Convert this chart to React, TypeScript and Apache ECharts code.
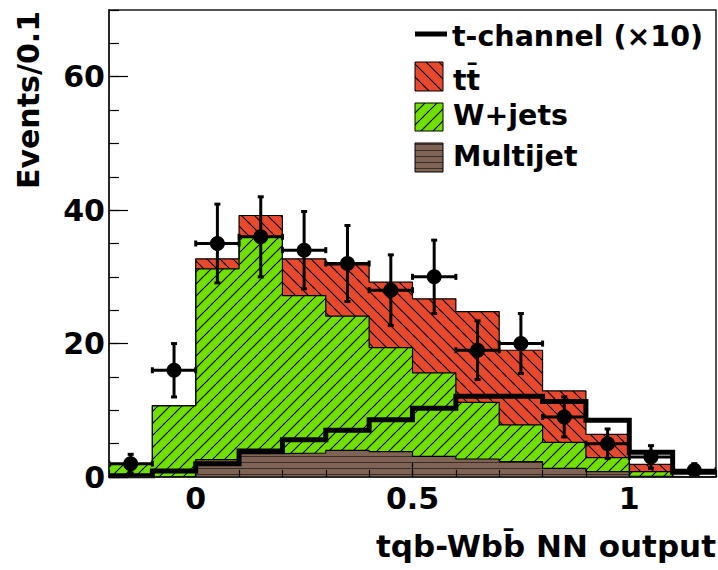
import React, { useEffect, useRef } from 'react';
import * as echarts from 'echarts';

// Bin edges of the NN output histogram (width 0.1)
const binEdges = [-0.2, -0.1, 0, 0.1, 0.2, 0.3, 0.4, 0.5, 0.6, 0.7, 0.8, 0.9, 1.0, 1.1, 1.2];
// Stacked backgrounds (bottom to top)
const multijet = [0, 0.1, 2.6, 3.5, 3.6, 4.0, 3.8, 3.1, 2.7, 2.3, 1.3, 0.8, 0.1, 0];
const wjets = [2.0, 10.6, 28.6, 32.4, 23.6, 20.1, 15.6, 12.5, 8.5, 5.5, 3.9, 2.1, 0.7, 0];
const ttbar = [0, 0, 1.5, 3.3, 5.5, 7.7, 9.8, 11.1, 13.6, 11.2, 7.7, 3.5, 1.1, 0];
// Signal scaled x10
const tchannelX10 = [0.2, 0.9, 2.0, 3.9, 5.6, 7.0, 8.6, 10.3, 12.1, 12.1, 11.3, 8.5, 3.7, 0.7];
// Data
const dataCounts = [2, 16, 35, 36, 34, 32, 28, 30, 19, 20, 9, 5, 3, 1];
const dataErrors = [1.4, 4.0, 5.9, 6.0, 5.8, 5.7, 5.3, 5.5, 4.4, 4.5, 3.0, 2.2, 1.7, 1.0];
// Axis tick labels
const xTickLabels = [0, 0.5, 1];
const yTickLabels = [0, 20, 40, 60];

const FONT = 'DejaVu Sans';
const RED = '#e8482c';
const GREEN = '#6fe000';
const BROWN = '#7f6456';

function hatch(kind: 'fwd' | 'back' | 'horiz', bg: string, p: number) {
  const c = document.createElement('canvas');
  c.width = p;
  c.height = p;
  const ctx = c.getContext('2d')!;
  ctx.fillStyle = bg;
  ctx.fillRect(0, 0, p, p);
  if (kind === 'horiz') {
    ctx.fillStyle = '#3a2c26';
    ctx.fillRect(0, 0, p, 1);
  } else {
    ctx.strokeStyle = '#000';
    ctx.lineWidth = 1.2;
    ctx.beginPath();
    for (let k = -1; k <= 1; k++) {
      if (kind === 'fwd') {
        ctx.moveTo(k * p, p);
        ctx.lineTo(k * p + p, 0);
      } else {
        ctx.moveTo(k * p, 0);
        ctx.lineTo(k * p + p, p);
      }
    }
    ctx.stroke();
  }
  return { image: c, repeat: 'repeat', imageWidth: p, imageHeight: p };
}

// step-line points at the bin edges (last bin repeated at the right edge)
const stepData = (vals: number[]) =>
  binEdges.map((x, i) => [x, vals[Math.min(i, vals.length - 1)]]);

export default function App() {
  const ref = useRef<HTMLDivElement>(null);
  useEffect(() => {
    if (!ref.current) return;
    const chart = echarts.init(ref.current, null, { renderer: 'svg' });
    const redPat = hatch('back', RED, 13);
    const greenPat = hatch('fwd', GREEN, 12);
    const brownPat = hatch('horiz', BROWN, 6);
    const half = (binEdges[1] - binEdges[0]) / 2;
    const centers = dataCounts.map((_, i) => binEdges[i] + half);

    // cumulative stack (drawn like a ROOT THStack: total first, then lower ones on top)
    const stackMJ = multijet.slice();
    const stackW = multijet.map((v, i) => v + wjets[i]);
    const stackTT = stackW.map((v, i) => v + ttbar[i]);

    const textStyle = { fontFamily: FONT, fontWeight: 'bold', color: '#000' };
    const histLine = { color: '#000', width: 1.2 };

    const option: any = {
      animation: false,
      grid: {
        left: 109, top: 10, right: 2, bottom: 93,
        show: true, borderColor: '#1a1a1a', borderWidth: 1.5,
      },
      xAxis: [
        {
          type: 'value', min: -0.2, max: 1.2, position: 'bottom', z: 6,
          axisLine: { show: true, onZero: false, lineStyle: { color: '#1a1a1a', width: 1.5 } },
          axisTick: { show: true, inside: true, length: 14, customValues: xTickLabels, lineStyle: { color: '#000', width: 1.2 } },
          axisLabel: { show: true, customValues: xTickLabels, margin: 6, fontSize: 30, ...textStyle },
          splitLine: { show: false },
        },
        {
          type: 'value', min: -0.2, max: 1.2, interval: 0.1, position: 'bottom', z: 6,
          axisLine: { show: false, onZero: false },
          axisTick: { show: true, inside: true, length: 7, lineStyle: { color: '#000', width: 1.2 } },
          axisLabel: { show: false },
          splitLine: { show: false },
        },
      ],
      yAxis: [
        {
          type: 'value', min: 0, max: 70, interval: 20, position: 'left', z: 6,
          axisLine: { show: true, onZero: false, lineStyle: { color: '#1a1a1a', width: 1.5 } },
          axisTick: { show: true, inside: true, length: 19, customValues: yTickLabels, lineStyle: { color: '#000', width: 1.2 } },
          axisLabel: { show: true, customValues: yTickLabels, margin: 4, fontSize: 30, ...textStyle },
          splitLine: { show: false },
        },
        {
          type: 'value', min: 0, max: 70, interval: 5, position: 'left', z: 6,
          axisLine: { show: false, onZero: false },
          axisTick: { show: true, inside: true, length: 10, lineStyle: { color: '#000', width: 1.2 } },
          axisLabel: { show: false },
          splitLine: { show: false },
        },
      ],
      series: [
        {
          name: 'tt̄', type: 'line', step: 'end', symbol: 'none',
          data: stepData(stackTT), lineStyle: histLine, areaStyle: { color: redPat, opacity: 1 }, z: 2,
        },
        {
          name: 'W+jets', type: 'line', step: 'end', symbol: 'none',
          data: stepData(stackW), lineStyle: histLine, areaStyle: { color: greenPat, opacity: 1 }, z: 2,
        },
        {
          name: 'Multijet', type: 'line', step: 'end', symbol: 'none',
          data: stepData(stackMJ), lineStyle: histLine, areaStyle: { color: brownPat, opacity: 1 }, z: 2,
        },
        {
          name: 't-channel (×10)', type: 'line', step: 'end', symbol: 'none',
          data: stepData(tchannelX10), lineStyle: { color: '#000', width: 5, cap: 'butt', join: 'miter' }, z: 3,
        },
        {
          name: 'Data errors', type: 'custom', z: 4, clip: true,
          data: centers.map((c, i) => [c, dataCounts[i], dataErrors[i]]),
          renderItem: (_p: any, api: any) => {
            const x = api.value(0), y = api.value(1), e = api.value(2);
            const c = api.coord([x, y]);
            const t = api.coord([x, y + e]);
            const b = api.coord([x, Math.max(0, y - e)]);
            const l = api.coord([x - half, y]);
            const r = api.coord([x + half, y]);
            const st = { stroke: '#000', lineWidth: 3 };
            const cap = 3;
            return {
              type: 'group',
              children: [
                { type: 'line', shape: { x1: c[0], y1: t[1], x2: c[0], y2: b[1] }, style: st },
                { type: 'line', shape: { x1: l[0], y1: c[1], x2: r[0], y2: c[1] }, style: st },
                { type: 'line', shape: { x1: c[0] - cap, y1: t[1], x2: c[0] + cap, y2: t[1] }, style: st },
                { type: 'line', shape: { x1: c[0] - cap, y1: b[1], x2: c[0] + cap, y2: b[1] }, style: st },
                { type: 'line', shape: { x1: l[0], y1: c[1] - cap, x2: l[0], y2: c[1] + cap }, style: st },
                { type: 'line', shape: { x1: r[0], y1: c[1] - cap, x2: r[0], y2: c[1] + cap }, style: st },
              ],
            };
          },
        },
        {
          name: 'Data', type: 'scatter', z: 5, symbol: 'circle', symbolSize: 15,
          itemStyle: { color: '#000', opacity: 1 },
          data: centers.map((c, i) => [c, dataCounts[i]]),
        },
      ],
      graphic: [
        {
          type: 'text', x: 28, y: 100, rotation: Math.PI / 2, z: 10,
          style: { text: 'Events/0.1', font: `bold 30px "${FONT}"`, fill: '#000', align: 'center', verticalAlign: 'middle' },
        },
        {
          type: 'text', x: 716, y: 546, z: 10,
          style: { text: 'tqb-Wbb̄ NN output', font: `bold 31px "${FONT}"`, fill: '#000', align: 'right', verticalAlign: 'middle' },
        },
        // legend
        { type: 'line', z: 10, shape: { x1: 415, y1: 34, x2: 447, y2: 34 }, style: { stroke: '#000', lineWidth: 5 } },
        { type: 'rect', z: 10, shape: { x: 415, y: 62, width: 28, height: 29 }, style: { fill: redPat, stroke: '#000', lineWidth: 1 } },
        { type: 'rect', z: 10, shape: { x: 415, y: 103, width: 28, height: 28 }, style: { fill: greenPat, stroke: '#000', lineWidth: 1 } },
        { type: 'rect', z: 10, shape: { x: 415, y: 143, width: 28, height: 29 }, style: { fill: brownPat, stroke: '#000', lineWidth: 1 } },
        {
          type: 'text', x: 452, y: 36, z: 10,
          style: { text: 't-channel (×10)', font: `bold 28.5px "${FONT}"`, fill: '#000', align: 'left', verticalAlign: 'middle' },
        },
        {
          type: 'text', x: 453, y: 80, z: 10,
          style: { text: 'tt̄', font: `bold 28.5px "${FONT}"`, fill: '#000', align: 'left', verticalAlign: 'middle' },
        },
        {
          type: 'text', x: 453, y: 115, z: 10,
          style: { text: 'W+jets', font: `bold 28.5px "${FONT}"`, fill: '#000', align: 'left', verticalAlign: 'middle' },
        },
        {
          type: 'text', x: 453, y: 156, z: 10,
          style: { text: 'Multijet', font: `bold 28.5px "${FONT}"`, fill: '#000', align: 'left', verticalAlign: 'middle' },
        },
      ],
    };
    chart.setOption(option);
    return () => chart.dispose();
  }, []);
  return <div ref={ref} style={{ position: 'absolute', left: 0, top: 0, width: 718, height: 570 }} />;
}
